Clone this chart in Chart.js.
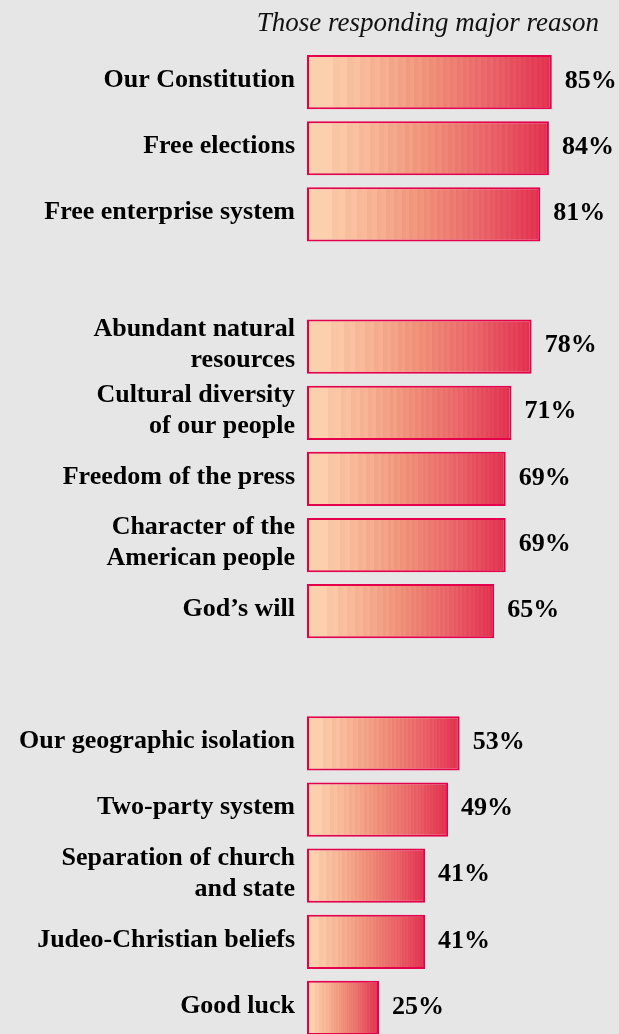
<!DOCTYPE html>
<html>
<head>
<meta charset="utf-8">
<script src="https://cdn.jsdelivr.net/npm/chart.js@4.4.1/dist/chart.umd.min.js"></script>
<style>
  html, body { margin:0; padding:0; background:#e6e6e6; overflow:hidden; }
  #wrap { position:relative; width:619px; height:1041px; }
</style>
</head>
<body>
<div id="wrap"><canvas id="reasons"></canvas></div>
<script>
// reasons, with an empty slot between the three groups
const reasonLabels = [
  'Our Constitution', 'Free elections', 'Free enterprise system',
  '',
  ['Abundant natural', 'resources'], ['Cultural diversity', 'of our people'],
  'Freedom of the press', ['Character of the', 'American people'], 'God\u2019s will',
  '',
  'Our geographic isolation', 'Two-party system', ['Separation of church', 'and state'],
  'Judeo-Christian beliefs', 'Good luck'
];
const majorReasonPct = [85, 84, 81, null, 78, 71, 69, 69, 65, null, 53, 49, 41, 41, 25];
const titleText = 'Those responding major reason';

const SERIF = '"Liberation Serif", "Times New Roman", serif';

// peach -> crimson, sampled in thin bands so the fill looks striped like the print
const ramp = [[252, 215, 180], [247, 183, 151], [239, 144, 120], [233, 100, 104], [226, 48, 79]];
function rampAt(t) {
  const p = t * (ramp.length - 1);
  const i = Math.min(Math.floor(p), ramp.length - 2);
  const f = p - i;
  return ramp[i].map((v, k) => v + (ramp[i + 1][k] - v) * f);
}

function barFill(c) {
  const chart = c.chart;
  if (!chart.chartArea || c.raw == null) return '#f4b090';
  const x0 = chart.scales.x.getPixelForValue(0);
  const x1 = chart.scales.x.getPixelForValue(c.raw);
  const g = chart.ctx.createLinearGradient(x0, 0, x1, 0);
  const n = 64;
  let prev = 0;
  for (let i = 0; i < n; i++) {
    // bands get narrower towards the dark end
    const t1 = Math.pow((i + 1) / n, 0.65);
    const col = rampAt((prev + t1) / 2);
    const d = i % 2 ? 3 : -2;
    const css = 'rgb(' + col.map(v => Math.max(0, Math.min(255, Math.round(v + d)))).join(',') + ')';
    g.addColorStop(prev, css);
    g.addColorStop(t1, css);
    prev = t1;
  }
  return g;
}

const valueLabels = {
  id: 'valueLabels',
  afterDatasetsDraw(chart) {
    const ctx = chart.ctx;
    const meta = chart.getDatasetMeta(0);
    ctx.save();
    ctx.font = 'bold 26px ' + SERIF;
    ctx.fillStyle = '#000';
    ctx.textAlign = 'left';
    ctx.textBaseline = 'middle';
    meta.data.forEach((bar, i) => {
      const v = majorReasonPct[i];
      if (v == null) return;
      ctx.fillText(v + '%', bar.x + 13, bar.y - 1);
    });
    ctx.restore();
  }
};

new Chart(document.getElementById('reasons'), {
  type: 'bar',
  data: {
    labels: reasonLabels,
    datasets: [{
      data: majorReasonPct,
      backgroundColor: barFill,
      borderColor: '#e4004a',
      borderWidth: 2,
      borderSkipped: false,
      categoryPercentage: 1,
      barPercentage: 0.82
    }]
  },
  options: {
    indexAxis: 'y',
    responsive: true,
    maintainAspectRatio: false,
    animation: false,
    layout: { padding: { right: 20, left: 0, top: 0, bottom: 0 } },
    plugins: {
      legend: { display: false },
      tooltip: { enabled: false },
      title: {
        display: true,
        text: titleText,
        align: 'end',
        color: '#111',
        font: { family: SERIF, size: 27, style: 'italic', weight: 'normal', lineHeight: 1.15 },
        padding: { top: 8, bottom: 10 }
      }
    },
    scales: {
      x: { display: false, min: 0, max: 100 * 292 / 288 },
      y: {
        grid: { display: false, drawTicks: false },
        border: { display: false },
        afterFit(scale) {
          scale.width = 307;
          scale.paddingTop = 0;
          scale.paddingBottom = 0;
        },
        ticks: {
          color: '#000',
          padding: 12,
          labelOffset: -2,
          autoSkip: false,
          font: { family: SERIF, size: 26, weight: 'bold', lineHeight: 1.2 }
        }
      }
    }
  },
  plugins: [valueLabels]
});
</script>
</body>
</html>
